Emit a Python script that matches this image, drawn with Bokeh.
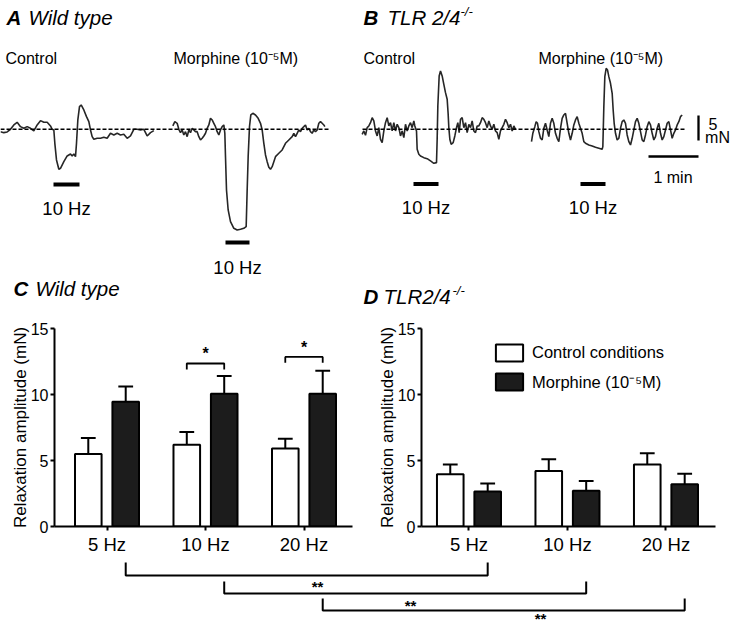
from bokeh.plotting import figure
from bokeh.layouts import column, row
from bokeh.models import Range1d, Label, FixedTicker, Legend, LegendItem
from bokeh.embed import file_html
from bokeh.resources import INLINE
from bokeh.core.properties import value

FONT = "Liberation Sans"


def fs(px):
    return f"{px:.1f}px"


# ---------------- data ----------------
freq_labels = ["5 Hz", "10 Hz", "20 Hz"]
cat_pos = [1, 2, 3]

wt_control = [5.5, 6.2, 5.9]
wt_control_sem = [1.2, 0.95, 0.75]
wt_morphine = [9.45, 10.05, 10.05]
wt_morphine_sem = [1.15, 1.35, 1.75]

tlr_control = [3.95, 4.2, 4.7]
tlr_control_sem = [0.75, 0.9, 0.85]
tlr_morphine = [2.65, 2.7, 3.2]
tlr_morphine_sem = [0.6, 0.75, 0.8]

# WT: control vs morphine, significant at 10 and 20 Hz
wt_sig_cats = [2, 3]
wt_sig_level = [12.35, 12.85]
wt_sig_text = ["*", "*"]

# WT morphine vs TLR2/4-/- morphine
cross_sig_cats = [1, 2, 3]
cross_sig_text = ["**", "**", "**"]

# representative traces: (time s, tension mN)
A_CONTROL = [(0, -0.47), (4, -0.67), (8, -0.53), (12, 0), (16, 0.87), (20, 1.4), (24, 0.53), (28, 0.2),
             (32, 0.53), (36, 0.2), (40, -0.33), (44, 0.87), (48, 1.73), (52, 1.4), (56, 1.4), (60, 0.67),
             (62, 0), (64, -0.13), (65.2, -2.8), (67.2, -6.13), (70, -8.0), (72, -7.8), (76, -6.47),
             (80, -5.33), (84, -4.93), (86, -5.33), (88, -4.93), (90, -5.47), (91.2, -2.8), (92.8, 1.87),
             (94.8, 4.53), (96.8, 4.87), (100, 3.87), (103.2, 2.53), (106, 1.53), (108, -0.13), (110, -1.47),
             (112, -2.0), (116, -1.8), (120, -1.8), (124, -1.6), (128, -1.8), (132, -0.8), (136, -1.13),
             (140, -0.8), (144, -1.13), (148, -1.0), (152, -1.8), (156, -1.33), (160, 0), (164, 0),
             (168, -0.13), (172, 0), (176, -1.33), (180, -0.67), (184, -0.27)]

A_MORPHINE = [(8.8, 0.67), (11.2, 1.53), (14, 1.2), (16, 0), (18, -0.67), (20, -0.13), (22, -1.13), (24, -0.47),
              (26, -1.47), (28, -0.13), (30, -0.67), (32, 0.2), (34, -0.13), (36, -0.47), (38, -0.47),
              (40, -1.47), (42, -2.13), (44, -1.8), (46, -1.33), (48, -0.8), (50, 0.2), (52, 0.87), (54, 2.2),
              (56, 1.87), (58, 1.2), (60, 0.53), (62, -0.47), (64, -1.13), (66, -0.13), (68, 0.53), (70, 0.87),
              (71.2, -0.8), (72, -5.47), (73.2, -12.13), (75.2, -16.13), (78, -18.47), (82, -19.8),
              (86, -20.13), (90, -20.0), (94, -19.8), (96.8, -19.47), (98, -12.13), (99.2, -5.47),
              (100.8, 0.53), (102.4, 2.87), (104.8, 3.2), (108, 2.87), (111.2, 2.2), (114, 1.2), (116, -0.13),
              (118, -2.8), (120, -5.13), (122, -6.47), (124, -7.6), (126, -8.0), (128, -7.47), (130, -6.47),
              (132, -5.47), (136, -4.8), (140, -4.13), (144, -2.8), (148, -2.13), (152, -1.47), (154, -0.8),
              (156, -1.47), (158, -0.8), (160, -0.13), (162, -0.47), (164, 0.2), (166, 0.53), (168, 0.87),
              (170, -0.13), (172, 0.2), (174, -0.47), (176, -0.8), (178, -0.13), (180, -0.47), (182, -0.13),
              (184, 1.2), (186, 1.53), (188, 1.2), (190, 0.87), (191.2, 0.53)]

B_CONTROL = [(2, -1.0), (4, -0.33), (6, -1.2), (8, 0.33), (10, 0.67), (12, 1.33), (14, 2.33), (16, 1.67),
             (18, -0.33), (20, -1.33), (22, 0.33), (24, -2.0), (26, -2.67), (28, -0.33), (30, 1.33), (32, 2.33),
             (34, 0.67), (36, 1.33), (38, -0.33), (40, 1.33), (42, -0.33), (44, 1.0), (46, 0.33), (48, -1.33),
             (50, -0.33), (52, -1.67), (54, 1.0), (56, -0.33), (58, 0.67), (60, 1.33), (62, 0.33), (64, 1.67),
             (65.2, 0.67), (67.2, -0.33), (68, -4.0), (70, -5.0), (72, -5.33), (76, -5.67), (80, -5.87),
             (84, -6.33), (88, -6.8), (91.2, -6.67), (92, -2.0), (92.8, 4.67), (94.4, 10.67), (96, 11.67),
             (98, 10.67), (100, 9.0), (102, 7.33), (104, 6.0), (105.2, 3.0), (106, 0.33), (107.2, -2.0),
             (108.8, -3.0), (111.2, -2.67), (113.2, -1.33), (115.2, 0.33), (116.8, 1.33), (118.4, -0.67),
             (120, 2.0), (122, 2.33), (124, 0.33), (126, 1.33), (128, -0.67), (130, 1.0), (132, 0.33),
             (134, 1.67), (136, -0.33), (138, -0.67), (140, 0.67), (142, 0.67), (144, 1.33), (146, 2.33),
             (148, 2.0), (150, 1.33), (152, 0.33), (154, 1.67), (156, 0.67), (158, 0), (160, 1.0),
             (162, -0.33), (164, -0.67), (166, -2.0), (168, -0.33), (170, 0.33), (172, 1.0), (174, 2.0),
             (176, 1.33), (178, 0.33), (180, 1.0), (182, -0.33), (184, 0.67), (186, 0)]

B_MORPHINE = [(7.2, -2.47), (8.8, -0.8), (11.2, 0.53), (12.8, 1.53), (14.4, 1.2), (16, -0.47), (18, -1.8),
              (20, -2.13), (22, 0.2), (24, 1.2), (26, -0.13), (28, -1.47), (30, 1.2), (32, 2.2), (34, 1.2),
              (36, -0.8), (38, -1.8), (40, -2.47), (42, 0.2), (44, 2.2), (46, 2.87), (48, 3.2), (50, 1.2),
              (52, -0.8), (54, -2.13), (56, -0.8), (58, 0.87), (60, 1.87), (62, 2.53), (64, 1.2), (66, 0.2),
              (68, -0.8), (70, -2.47), (72, -2.8), (76, -3.13), (80, -3.33), (84, -3.6), (88, -3.8),
              (92, -4.0), (92.8, -3.47), (94, 4.53), (95.2, 10.53), (96.8, 12.2), (98.4, 11.87), (100, 10.53),
              (102, 9.2), (104, 7.2), (105.2, 3.87), (106.4, 1.2), (108, -0.8), (110, -2.13), (112, -1.8),
              (114, 0.2), (116, 1.53), (118, 1.87), (120, 1.2), (122, -1.13), (124, -2.47), (126, -3.13),
              (128, -1.8), (130, -0.13), (132, 1.53), (134, 2.2), (136, 1.2), (138, -0.47), (140, -2.13),
              (142, -2.47), (144, -1.13), (146, 0.53), (148, 1.53), (150, 0.87), (152, -0.8), (154, -2.13),
              (156, -1.47), (158, 0.2), (160, 1.2), (162, -0.8), (164, -2.13), (166, -1.47), (168, -0.13),
              (170, 1.2), (172, 1.53), (174, -0.13), (176, -1.8), (178, -0.8), (180, -0.13), (182, 0.87),
              (184, 1.53), (186, 2.53), (188, 2.87)]

# stimulation windows (s, within each sweep)
STIM_A = [(63.6, 94.8), (72.0, 100.8)]
STIM_B = [(63.6, 93.6), (66.0, 96.0)]
SCALE_MN = 5
SCALE_S = 60

# ---------------- layout constants (pixels) ----------------
W = 730
T_H = 310          # traces + panel titles
B_H = 247          # bar panels
BR_H = 74          # cross-genotype brackets

# ---------------- top panel (traces A, B + all panel titles) ----------------
S_PER_PX = 1.2      # seconds per pixel
MN_PER_PX = 0.2     # mN per pixel
BASE_PX = 128.8


def X(px):
    return px * S_PER_PX


def Y(py):
    return (BASE_PX - py) * MN_PER_PX


top = figure(width=W, height=T_H, x_range=Range1d(0, W * S_PER_PX),
             y_range=Range1d(Y(T_H), Y(0)), x_axis_type=None, y_axis_type=None,
             toolbar_location=None, output_backend="svg", min_border=0,
             outline_line_color=None, title=None)

sweep_off = [X(0), X(165), X(360), X(525)]
for trace, off in zip([A_CONTROL, A_MORPHINE, B_CONTROL, B_MORPHINE], sweep_off):
    top.line([off + t for t, v in trace], [v for t, v in trace], line_color="#262626", line_width=1.6)

# dashed baselines
top.segment(x0=[X(0), X(362)], y0=[0, 0], x1=[X(328), X(686)], y1=[0, 0],
            line_color="black", line_width=1.5, line_dash="4 2")

# stimulation bars
stims = STIM_A + STIM_B
stim_y = [Y(184), Y(242), Y(183.5), Y(183.5)]
top.segment(x0=[o + s[0] for o, s in zip(sweep_off, stims)], y0=stim_y,
            x1=[o + s[1] for o, s in zip(sweep_off, stims)], y1=stim_y,
            line_color="black", line_width=4, line_cap="butt")

# scale bars
top.segment(x0=[X(698), X(648)], y0=[Y(140), Y(156)],
            x1=[X(698), X(648) + SCALE_S], y1=[Y(140) + SCALE_MN, Y(156)],
            line_color="black", line_width=2.3, line_cap="butt")


def lab(p, x, y, text, size, style="normal", align="left", baseline="alphabetic"):
    p.add_layout(Label(x=x, y=y, text=text, text_font=FONT, text_font_size=size,
                       text_font_style=style, text_align=align, text_baseline=baseline,
                       text_color="black"))


stim_label_y = [208, 266.5, 206.5, 206.5]
for o, s, ly in zip(sweep_off, stims, stim_label_y):
    lab(top, o + (s[0] + s[1]) / 2, Y(ly), "10 Hz", fs(18.5), align="center")

lab(top, X(712.5), Y(123), str(SCALE_MN), fs(16), align="center")
lab(top, X(717), Y(136.5), "mN", fs(16), align="center")
lab(top, X(672.5), Y(177), "1 min", fs(16), align="center")

for px in (5, 363):
    lab(top, X(px), Y(57.7), "Control", fs(16))
for px in (173, 538):
    lab(top, X(px), Y(57.7), "Morphine (10⁻⁵M)", fs(16))

# panel titles
lab(top, X(6), Y(16.7), "A", fs(20.5), "bold italic")
lab(top, X(28), Y(16.7), "Wild type", fs(20.5), "italic")
lab(top, X(363), Y(16.7), "B", fs(20.5), "bold italic")
lab(top, X(387), Y(16.7), "TLR 2/4", fs(20.5), "italic")
lab(top, X(460), Y(10.5), "-/-", fs(13), "italic")
lab(top, X(13), Y(288), "C", fs(20.5), "bold italic")
lab(top, X(35), Y(288), "Wild type", fs(20.5), "italic")
lab(top, X(363), Y(296), "D", fs(20.5), "bold italic")
lab(top, X(383), Y(296), "TLR2/4", fs(20.5), "italic")
lab(top, X(452), Y(289.5), "-/-", fs(13), "italic")

# ---------------- bar panels C and D ----------------
PPU = 98.5
C_W, C_L, C_R = 358, 54, 6
D_W, D_L, D_R = W - 358, 63, 15
B_TOP, B_BOT = 18, 30
C_X0 = 0.467
D_X0 = 0.518
BAR_W = 0.27
DODGE = 0.19
CAP = 0.075


def bar_panel(width, left, right, x0, ctrl, ctrl_sem, morph, morph_sem):
    frame_w = width - left - right
    p = figure(width=width, height=B_H, x_range=Range1d(x0, x0 + frame_w / PPU),
               y_range=Range1d(0, 15), toolbar_location=None, output_backend="svg",
               min_border_left=left, min_border_right=right, min_border_top=B_TOP,
               min_border_bottom=B_BOT, outline_line_color=None, title=None)
    p.xgrid.visible = False
    p.ygrid.visible = False
    xc = [c - DODGE for c in cat_pos]
    xm = [c + DODGE for c in cat_pos]
    # error bars (upper only)
    for xs, v, e in ((xc, ctrl, ctrl_sem), (xm, morph, morph_sem)):
        tops = [a + b for a, b in zip(v, e)]
        p.segment(x0=xs, y0=v, x1=xs, y1=tops, line_color="black", line_width=2)
        p.segment(x0=[x - CAP for x in xs], y0=tops, x1=[x + CAP for x in xs], y1=tops,
                  line_color="black", line_width=2)
    rc = p.vbar(x=xc, top=ctrl, width=BAR_W, fill_color="white", line_color="black", line_width=2)
    rm = p.vbar(x=xm, top=morph, width=BAR_W, fill_color="#1c1c1c", line_color="black", line_width=2)

    p.xaxis.ticker = FixedTicker(ticks=cat_pos)
    p.xaxis.major_label_overrides = {c: f for c, f in zip(cat_pos, freq_labels)}
    p.yaxis.ticker = FixedTicker(ticks=[0, 5, 10, 15])
    p.axis.minor_tick_line_color = None
    p.axis.axis_line_width = 2
    p.axis.axis_line_color = "black"
    p.axis.major_tick_line_width = 2
    p.axis.major_tick_line_color = "black"
    p.axis.major_tick_in = 0
    p.axis.major_tick_out = 4
    p.axis.major_label_text_font = FONT
    p.axis.major_label_text_color = "black"
    p.xaxis.major_label_text_font_size = fs(18.5)
    p.yaxis.major_label_text_font_size = fs(16)
    p.xaxis.major_label_standoff = 3
    p.yaxis.major_label_standoff = 2
    p.yaxis.axis_label = "Relaxation amplitude (mN)"
    p.yaxis.axis_label_text_font = FONT
    p.yaxis.axis_label_text_font_size = fs(17)
    p.yaxis.axis_label_text_font_style = "normal"
    p.yaxis.axis_label_text_color = "black"
    p.yaxis.axis_label_standoff = -2
    return p, rc, rm


pc, _, _ = bar_panel(C_W, C_L, C_R, C_X0, wt_control, wt_control_sem, wt_morphine, wt_morphine_sem)
pd, rdc, rdm = bar_panel(D_W, D_L, D_R, D_X0, tlr_control, tlr_control_sem, tlr_morphine, tlr_morphine_sem)

# significance brackets in C
pc.multi_line(xs=[[c - DODGE, c - DODGE, c + DODGE, c + DODGE] for c in wt_sig_cats],
              ys=[[l - 0.45, l, l, l - 0.45] for l in wt_sig_level],
              line_color="black", line_width=1.8)
pc.text(x=wt_sig_cats, y=[l + 0.95 for l in wt_sig_level], text=wt_sig_text,
        text_align="center", text_baseline="alphabetic", y_offset=3,
        text_font=value(FONT), text_font_size=value(fs(16)), text_font_style="bold",
        text_color="black")

legend = Legend(items=[LegendItem(label="Control conditions", renderers=[rdc]),
                       LegendItem(label="Morphine (10⁻⁵M)", renderers=[rdm])],
                location=(71, 133), orientation="vertical", glyph_width=34, glyph_height=21,
                label_height=21, spacing=7, padding=0, margin=0, label_standoff=6,
                border_line_color=None, background_fill_alpha=0,
                label_text_font=FONT, label_text_font_size=fs(16.5), label_text_color="black")
pd.add_layout(legend)

# ---------------- cross-genotype brackets ----------------
br_x0 = C_X0 - C_L / PPU
br = figure(width=W, height=BR_H, x_range=Range1d(br_x0, br_x0 + W / PPU),
            y_range=Range1d(BR_H, 0), x_axis_type=None, y_axis_type=None,
            toolbar_location=None, output_backend="svg", min_border=0,
            outline_line_color=None, title=None)
D_OFF = (C_W + D_L - C_L) / PPU + C_X0 - D_X0
br_top = [5, 24, 41]
br_bot = [18, 36, 53]
br.multi_line(xs=[[c + DODGE, c + DODGE, c + DODGE + D_OFF, c + DODGE + D_OFF] for c in cross_sig_cats],
              ys=[[t, b, b, t] for t, b in zip(br_top, br_bot)],
              line_color="black", line_width=2)
star_px = [317, 410, 540]
br.text(x=[br_x0 + px / PPU for px in star_px], y=[26, 45, 58], text=cross_sig_text,
        text_align="center", text_baseline="alphabetic", y_offset=3,
        text_font=value(FONT), text_font_size=value(fs(15)), text_font_style="bold",
        text_color="black")

layout = column(top, row(pc, pd), br)
open("out.html", "w").write(file_html(layout, INLINE))
